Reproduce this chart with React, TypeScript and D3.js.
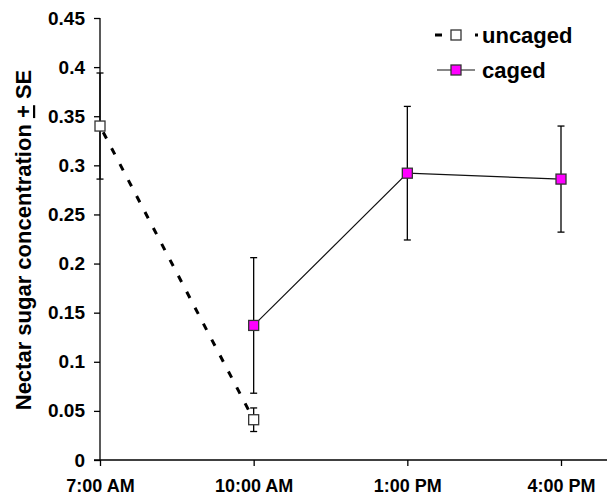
import React, { useEffect, useRef } from 'react';
import * as d3 from 'd3';

// times of day on the x axis
const times = ['7:00 AM', '10:00 AM', '1:00 PM', '4:00 PM'];

// uncaged flowers: mean and SE
const uncagedTimes = ['7:00 AM', '10:00 AM'];
const uncagedMean = [0.34, 0.041];
const uncagedSE = [0.054, 0.012];

// caged flowers: mean and SE
const cagedTimes = ['10:00 AM', '1:00 PM', '4:00 PM'];
const cagedMean = [0.137, 0.292, 0.286];
const cagedSE = [0.069, 0.068, 0.054];

const yTicks = [0, 0.05, 0.1, 0.15, 0.2, 0.25, 0.3, 0.35, 0.4, 0.45];

const FONT = 'Arial, "Liberation Sans", sans-serif';

export default function App() {
    const node = useRef<SVGSVGElement>(null);

    useEffect(() => {
        const svg = d3.select(node.current);
        svg.selectAll('*').remove();

        const xScale = d3.scalePoint<string>()
            .domain(times)
            .range([100, 561]);

        const yScale = d3.scaleLinear()
            .domain([0, 0.45])
            .range([460, 18]);

        // y axis
        const yAxis = d3.axisLeft(yScale)
            .tickValues(yTicks)
            .tickSize(6)
            .tickPadding(9)
            .tickFormat((d) => `${d}`);

        const yg = svg.append('g')
            .attr('transform', 'translate(100,0)')
            .call(yAxis);
        yg.select('.domain').attr('stroke', '#000').attr('stroke-width', 1.3).attr('d', 'M0,18V460');
        yg.selectAll('line').attr('stroke', '#000').attr('stroke-width', 1.3);
        yg.selectAll('text')
            .attr('fill', '#000')
            .style('font-family', FONT)
            .style('font-weight', 'bold')
            .style('font-size', '19px');

        // x axis
        const xAxis = d3.axisBottom(xScale)
            .tickSize(6)
            .tickPadding(13);

        const xg = svg.append('g')
            .attr('transform', 'translate(0,460)')
            .call(xAxis);
        xg.select('.domain').attr('stroke', '#000').attr('stroke-width', 1.3).attr('d', 'M94,0H607');
        xg.selectAll('line').attr('stroke', '#000').attr('stroke-width', 1.3);
        xg.selectAll('text')
            .attr('fill', '#000')
            .style('font-family', FONT)
            .style('font-weight', 'bold')
            .style('font-size', '18px');

        // y label with underlined plus sign
        const label = svg.append('text')
            .attr('transform', 'translate(31,240) rotate(-90)')
            .attr('text-anchor', 'middle')
            .style('font-family', FONT)
            .style('font-weight', 'bold')
            .style('font-size', '22px');
        label.append('tspan').text('Nectar sugar concentration ');
        label.append('tspan').attr('text-decoration', 'underline').text('+');
        label.append('tspan').text(' SE');

        const uncaged = uncagedTimes.map((t, i) => ({ t, m: uncagedMean[i], se: uncagedSE[i] }));
        const caged = cagedTimes.map((t, i) => ({ t, m: cagedMean[i], se: cagedSE[i] }));

        const line = d3.line<{ t: string; m: number }>()
            .x((d) => xScale(d.t) as number)
            .y((d) => yScale(d.m));

        // error bars
        const drawErr = (data: { t: string; m: number; se: number }[]) => {
            const g = svg.append('g').attr('stroke', '#000').attr('stroke-width', 1.3);
            data.forEach((d) => {
                const x = xScale(d.t) as number;
                g.append('line').attr('x1', x).attr('x2', x)
                    .attr('y1', yScale(d.m - d.se)).attr('y2', yScale(d.m + d.se));
                [d.m - d.se, d.m + d.se].forEach((v) => {
                    g.append('line').attr('x1', x - 3.5).attr('x2', x + 3.5)
                        .attr('y1', yScale(v)).attr('y2', yScale(v));
                });
            });
        };
        drawErr(uncaged);
        drawErr(caged);

        // uncaged dashed line
        svg.append('path')
            .datum(uncaged)
            .attr('d', line)
            .attr('fill', 'none')
            .attr('stroke', '#000')
            .attr('stroke-width', 3)
            .attr('stroke-dasharray', '7,11')
            .attr('stroke-dashoffset', -7);

        // caged solid line
        svg.append('path')
            .datum(caged)
            .attr('d', line)
            .attr('fill', 'none')
            .attr('stroke', '#111')
            .attr('stroke-width', 1.2);

        const sq = 10;
        svg.selectAll('.m-uncaged')
            .data(uncaged)
            .enter()
            .append('rect')
            .attr('x', (d) => (xScale(d.t) as number) - sq / 2)
            .attr('y', (d) => yScale(d.m) - sq / 2)
            .attr('width', sq)
            .attr('height', sq)
            .attr('fill', '#fff')
            .attr('stroke', '#333')
            .attr('stroke-width', 1.3);

        svg.selectAll('.m-caged')
            .data(caged)
            .enter()
            .append('rect')
            .attr('x', (d) => (xScale(d.t) as number) - sq / 2)
            .attr('y', (d) => yScale(d.m) - sq / 2)
            .attr('width', sq)
            .attr('height', sq)
            .attr('fill', '#ff00ff')
            .attr('stroke', '#333')
            .attr('stroke-width', 1.3);

        // legend
        const legend = svg.append('g');
        legend.append('line')
            .attr('x1', 435).attr('x2', 478).attr('y1', 35).attr('y2', 35)
            .attr('stroke', '#000').attr('stroke-width', 3)
            .attr('stroke-dasharray', '7,33,3,10');
        legend.append('rect')
            .attr('x', 451).attr('y', 30).attr('width', sq).attr('height', sq)
            .attr('fill', '#fff').attr('stroke', '#333').attr('stroke-width', 1.3);
        legend.append('line')
            .attr('x1', 437).attr('x2', 475).attr('y1', 70).attr('y2', 70)
            .attr('stroke', '#111').attr('stroke-width', 1.2);
        legend.append('rect')
            .attr('x', 451).attr('y', 65).attr('width', sq).attr('height', sq)
            .attr('fill', '#ff00ff').attr('stroke', '#333').attr('stroke-width', 1.3);
        [['uncaged', 43], ['caged', 78]].forEach(([t, y]) => {
            legend.append('text')
                .attr('x', 482)
                .attr('y', y as number)
                .style('font-family', FONT)
                .style('font-weight', 'bold')
                .style('font-size', '22px')
                .text(t as string);
        });
    }, []);

    return (
        <div>
            <style>{'body{margin:0}'}</style>
            <svg ref={node} width={610} height={498} style={{ display: 'block', background: '#fff' }} />
        </div>
    );
}
